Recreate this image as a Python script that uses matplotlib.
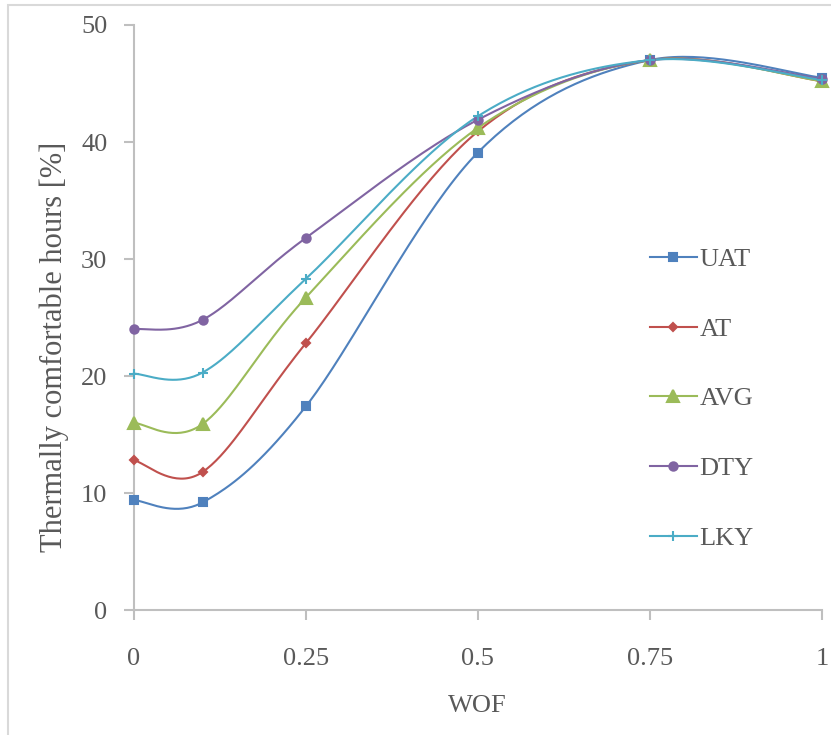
import numpy as np
import matplotlib
matplotlib.use("Agg")
import matplotlib.pyplot as plt
from matplotlib.patches import Rectangle

wof = [0, 0.1, 0.25, 0.5, 0.75, 1]
uat = [9.4, 9.2, 17.4, 39.1, 47.0, 45.5]
at = [12.8, 11.8, 22.8, 40.9, 47.0, 45.2]
avg = [16.0, 15.9, 26.7, 41.2, 47.0, 45.2]
dty = [24.0, 24.8, 31.8, 41.9, 47.0, 45.4]
lky = [20.2, 20.3, 28.3, 42.2, 47.0, 45.3]

names = ["UAT", "AT", "AVG", "DTY", "LKY"]
colors = ["#4F81BD", "#C0504D", "#9BBB59", "#8064A2", "#4BACC6"]
markers = ["s", "D", "^", "o", "+"]
msizes = [6, 4, 8, 6, 7]


def smooth(x, y, n=40):
    # excel-like bezier smoothing
    p = np.column_stack([x, y]).astype(float)
    pts = np.vstack([p[0], p, p[-1]])
    out = []
    t = np.linspace(0, 1, n)[:, None]
    for i in range(1, len(pts) - 2):
        p0, p3 = pts[i], pts[i + 1]
        c1 = p0 + (pts[i + 1] - pts[i - 1]) / 6
        c2 = p3 - (pts[i + 2] - pts[i]) / 6
        seg = (1 - t) ** 3 * p0 + 3 * (1 - t) ** 2 * t * c1 + 3 * (1 - t) * t ** 2 * c2 + t ** 3 * p3
        out.append(seg)
    s = np.vstack(out)
    return s[:, 0], s[:, 1]


plt.rcParams['font.family'] = ['Liberation Serif', 'DejaVu Serif']
fig = plt.figure(figsize=(8.31, 7.35), dpi=100)
ax = fig.add_axes([0.161, 0.170, 0.828, 0.796])

for vals, name, c, m, ms in zip([uat, at, avg, dty, lky], names, colors, markers, msizes):
    sx, sy = smooth(wof, vals)
    ax.plot(sx, sy, color=c, lw=1.5, clip_on=False)
    ax.plot(wof, vals, ls='none', marker=m, color=c, ms=ms, mew=1.5, clip_on=False, zorder=3)
    ax.plot([], [], color=c, lw=1.5, marker=m, ms=ms, mew=1.5, label=name)

ax.set_xlim(0, 1)
ax.set_ylim(0, 50)
ax.set_xticks([0, 0.25, 0.5, 0.75, 1])
ax.set_xticklabels(["0", "0.25", "0.5", "0.75", "1"])
ax.set_yticks([0, 10, 20, 30, 40, 50])
for s in ["top", "right"]:
    ax.spines[s].set_visible(False)
for s in ["left", "bottom"]:
    ax.spines[s].set_color("#BFBFBF")
    ax.spines[s].set_linewidth(1.5)
ax.tick_params(direction='out', length=7, width=1.5, color="#BFBFBF",
               labelsize=19, labelcolor="#595959")
ax.tick_params(axis='x', pad=20)
ax.tick_params(axis='y', pad=12)
ax.set_xlabel("WOF", fontsize=19, color="#595959", labelpad=18)
ax.set_ylabel("Thermally comfortable hours [%]", fontsize=22, color="#595959")
ax.yaxis.set_label_coords(-0.094, 0.45)

ax.legend(loc='upper left', bbox_to_anchor=(0.715, 0.66), frameon=False, fontsize=19,
          labelcolor="#595959", handlelength=1.8, handletextpad=0.1, labelspacing=1.75)

fig.patches.append(Rectangle((0.01, -0.01), 1.0, 1.003, transform=fig.transFigure,
                             fill=False, edgecolor="#D9D9D9", lw=1.5))

fig.savefig("out.png", dpi=100)
